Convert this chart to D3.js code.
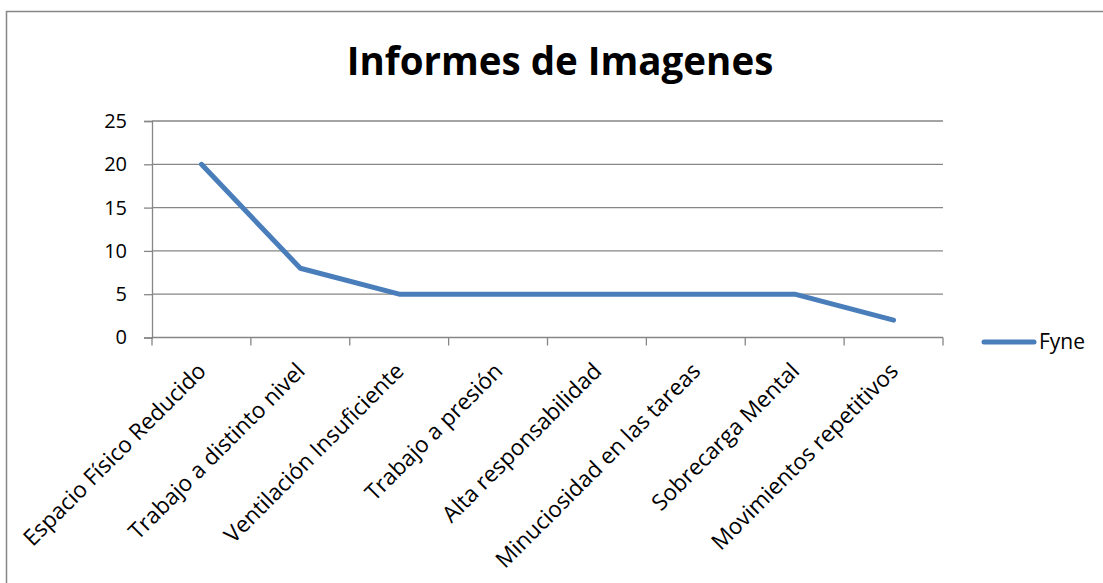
<!DOCTYPE html>
<html lang="es">
<head>
  <meta charset="utf-8">
  <title>Informes de Imagenes</title>
  <script src="https://d3js.org/d3.v7.min.js"></script>
  <style type="text/css">
    body{ margin:0; background:#fff; }
    text{ font-family: "Open Sans", "Noto Sans", sans-serif; fill:#000; }
  </style>
</head>
<body>
  <script type="text/javascript">

    var width = 1103;
    var height = 583;

    // data
    var categories = ["Espacio Físico Reducido", "Trabajo a distinto nivel", "Ventilación Insuficiente",
                      "Trabajo a presión", "Alta responsabilidad", "Minuciosidad en las tareas",
                      "Sobrecarga Mental", "Movimientos repetitivos"];
    var values = [20, 8, 5, 5, 5, 5, 5, 2];
    var yTicks = [0, 5, 10, 15, 20, 25];
    var seriesName = "Fyne";
    var chartTitle = "Informes de Imagenes";

    var plot = {left:152, right:943, top:121, bottom:337.5};
    var gridColor = "#868686";
    var lineColor = "#4a7ebb";

    var svg = d3.select("body")
            .append("svg")
            .attr("width", width)
            .attr("height", height);

    // chart frame
    svg.append("rect")
        .attr("x", 6.5).attr("y", 11.5)
        .attr("width", 1200).attr("height", 1000)
        .attr("fill", "none")
        .attr("stroke", gridColor)
        .attr("stroke-width", 1.5);

    // title
    svg.append("text")
        .attr("x", 560).attr("y", 75)
        .attr("text-anchor", "middle")
        .style("font-size", "38.5px")
        .style("font-weight", "bold")
        .text(chartTitle);

    var xScale = d3.scaleBand().domain(categories).range([plot.left, plot.right]);
    var yScale = d3.scaleLinear().domain([0, 25]).range([plot.bottom, plot.top]);

    // gridlines
    svg.selectAll(".grid")
        .data(yTicks.slice(1))
        .enter()
        .append("line")
        .attr("class", "grid")
        .attr("x1", plot.left).attr("x2", plot.right)
        .attr("y1", function(d){ return yScale(d); })
        .attr("y2", function(d){ return yScale(d); })
        .attr("stroke", gridColor)
        .attr("stroke-width", 1.3);

    // y axis
    var yAxis = svg.append("g")
        .attr("transform", "translate(" + plot.left + ",0)")
        .call(d3.axisLeft(yScale).tickValues(yTicks).tickSize(8).tickPadding(17));
    yAxis.select(".domain").attr("stroke", gridColor).attr("stroke-width", 1.3);
    yAxis.selectAll(".tick line").attr("stroke", gridColor).attr("stroke-width", 1.3);
    yAxis.selectAll(".tick text")
        .style("font-size", "20px")
        .style("font-family", "'Open Sans', sans-serif")
        .attr("fill", "#000");

    // x axis: ticks on category boundaries
    var bounds = categories.map(function(c){ return xScale(c); }).concat([plot.right]);
    var xAxis = svg.append("g").attr("transform", "translate(0," + plot.bottom + ")");
    xAxis.append("line")
        .attr("x1", plot.left).attr("x2", plot.right)
        .attr("stroke", gridColor).attr("stroke-width", 1.3);
    xAxis.selectAll(".xtick")
        .data(bounds)
        .enter()
        .append("line")
        .attr("class", "xtick")
        .attr("x1", function(d){ return d; }).attr("x2", function(d){ return d; })
        .attr("y1", 0).attr("y2", 8)
        .attr("stroke", gridColor).attr("stroke-width", 1.3);
    xAxis.selectAll(".xlabel")
        .data(categories)
        .enter()
        .append("text")
        .attr("class", "xlabel")
        .attr("text-anchor", "end")
        .style("font-size", "22.5px")
        .attr("transform", function(d){
            var x = xScale(d) + xScale.bandwidth() / 2 + 6;
            return "translate(" + x + ",35) rotate(-45)";
        })
        .text(function(d){ return d; });

    // series line
    var line = d3.line()
        .x(function(d, i){ return xScale(categories[i]) + xScale.bandwidth() / 2; })
        .y(function(d){ return yScale(d); });

    svg.append("path")
        .datum(values)
        .attr("d", line)
        .attr("fill", "none")
        .attr("stroke", lineColor)
        .attr("stroke-width", 5)
        .attr("stroke-linecap", "round")
        .attr("stroke-linejoin", "round");

    // legend
    svg.append("line")
        .attr("x1", 984).attr("x2", 1034)
        .attr("y1", 342).attr("y2", 342)
        .attr("stroke", lineColor)
        .attr("stroke-width", 5)
        .attr("stroke-linecap", "round");
    svg.append("text")
        .attr("x", 1039).attr("y", 349)
        .style("font-size", "21px")
        .text(seriesName);

  </script>
</body>
</html>
